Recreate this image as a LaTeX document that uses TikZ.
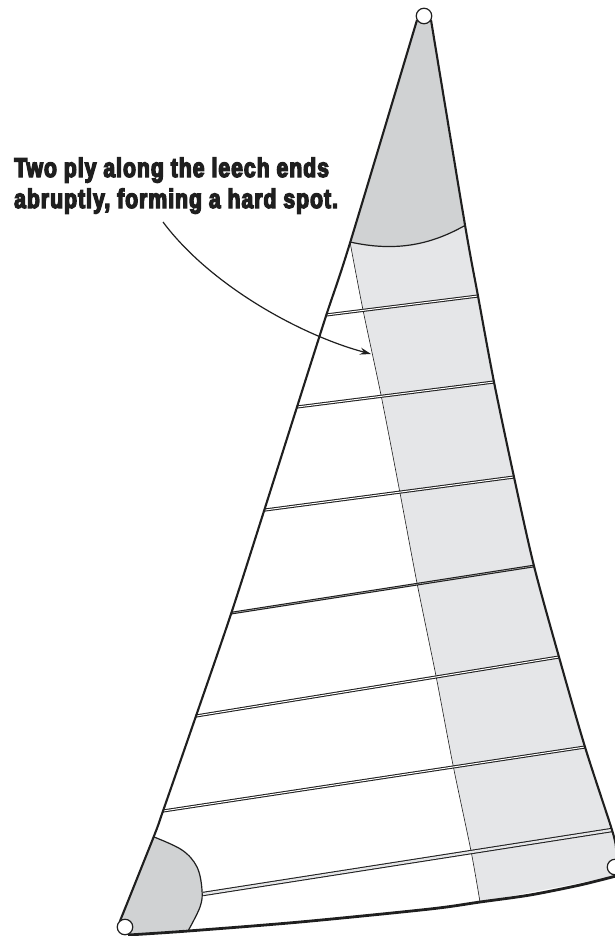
\documentclass[tikz,border=0pt]{standalone}
\usepackage{fontspec}
\usepackage{xcolor}
\newfontfamily\notefont{Liberation Sans Bold}[FakeStretch=0.78,FakeBold=5,LetterSpace=4]
\usetikzlibrary{arrows.meta, positioning}
\definecolor{patchgrey}{HTML}{D0D2D3}
\definecolor{plygrey}{HTML}{E5E6E8}
\colorlet{inkblack}{black!88}
\newcommand{\luffline}{plot[smooth, tension=0.5] coordinates {(417,20) (350,243) (326,316) (297,407) (264,511) (231,614) (196,716) (163,811) (154,836) (120,921)}}
\newcommand{\leechline}{plot[smooth, tension=0.5] coordinates {(431,20) (465,225) (478,296) (494,382) (514,477) (534,566) (559,657) (585,747) (612,830) (616,848)}}
\newcommand{\footline}{plot[smooth, tension=0.5] coordinates {(128,935) (188,931) (300,922) (430,909) (480,902) (530,895) (580,885) (616,876)}}
\tikzset{
  edgeline/.style={draw=inkblack, line width=2.1pt},
  patchline/.style={draw=inkblack, line width=1.2pt},
  seamline/.style={draw=inkblack, line width=1.05pt, double=#1, double distance=1pt},
  seamline/.default=white,
  ringnode/.style={circle, draw=inkblack, fill=white, line width=1.2pt, minimum size=15.5pt, inner sep=0pt},
}
\begin{document}
\begin{tikzpicture}[x=1pt, y=-1pt]
    \useasboundingbox (0,0) rectangle (615,936);
    % patches, cut off at the sail outline
    \begin{scope}
        \clip (417,20) -- (431,20) -- (465,225) -- (478,296) -- (494,382) -- (514,477) -- (534,566) -- (559,657) -- (585,747) -- (616,848) -- (616,876) -- (480,902) -- (128,935) -- (120,921) -- (154,836) -- (231,614) -- (350,243) -- cycle;
        \fill[plygrey] plot[smooth, tension=0.5] coordinates {(350,242) (363,310) (381,395) (400,493) (417,583) (436,676) (453,765) (471,851) (480,902)} -- (640,902) -- (640,200) -- cycle;
        \fill[patchgrey] (350,242) .. controls (395,252) and (430,245) .. (464,226) -- (464,0) -- (350,0) -- cycle;
        \fill[patchgrey] plot[smooth, tension=0.6] coordinates {(154,837) (182,850) (197,867) (202,890) (200,907) (188,931)} -- (100,940) -- (100,837) -- cycle;
    \end{scope}
    % edges of the patches
    \draw[patchline] (350,242) .. controls (395,252) and (430,245) .. (464,226);
    \draw[patchline] plot[smooth, tension=0.6] coordinates {(154,837) (182,850) (197,867) (202,890) (200,907) (188,931)};
    % inner edge of the ply
    \draw[inkblack, line width=0.6pt] plot[smooth, tension=0.5] coordinates {(350,242) (363,310) (381,395) (400,493) (417,583) (436,676) (453,765) (471,851) (480,902)};
    % seams
    \draw[seamline] (326,315) -- (478,296);
    \draw[seamline] (297,407) -- (494,382);
    \draw[seamline] (265,510) -- (514,477);
    \draw[seamline, line width=1.2pt, double distance=0.3pt] (232,613) -- (534,566);
    \draw[seamline] (196,716) -- (559,657);
    \draw[seamline] (163,811) -- (585,747);
    \draw[seamline=plygrey, double distance=2.3pt] (203,894) -- (612,830);
    % sail outline
    \draw[edgeline] \luffline;
    \draw[edgeline] \leechline;
    \draw[edgeline, line width=2.8pt] \footline;
    % rings
    \node[ringnode] (head) at (424,16) {};
    \node[ringnode] (tack) at (125,927) {};
    \node[ringnode] (clew) at (615,867) {};
    % note and its pointer
    \node[anchor=base west, align=left, inner sep=0pt, text=inkblack, font=\notefont\fontsize{27}{31}\selectfont] (plynote) at (14,208) {Two ply along the leech ends\\abruptly, forming a hard spot.};
    \coordinate (notefoot) at (163,222);
    \coordinate (plypoint) at (371,354);
    \draw[-{Stealth[length=11pt, width=7pt]}, inkblack, line width=1.2pt] (notefoot) .. controls (210,285) and (300,335) .. (plypoint);
\end{tikzpicture}
\end{document}
